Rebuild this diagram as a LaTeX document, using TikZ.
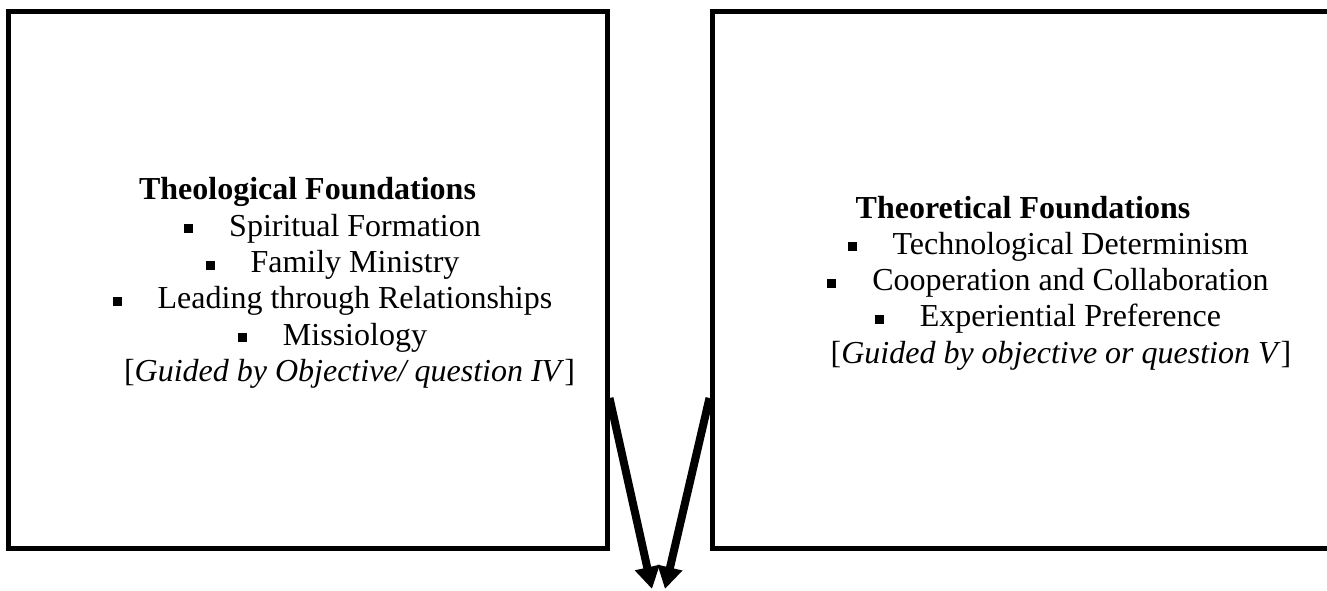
\documentclass[tikz,border=0pt]{standalone}
\usepackage{fontspec}
\setmainfont{Liberation Serif}
\usetikzlibrary{arrows.meta}
\newcommand\sqbul{\hspace*{50pt}\rule[3pt]{9pt}{9pt}\hspace{36pt}}
\begin{document}
\begin{tikzpicture}[x=1pt,y=1pt,
  box/.style={draw,line width=5pt,minimum height=536pt,inner sep=0pt},
  txt/.style={align=center,font=\fontsize{32}{36.3}\selectfont},
  arr/.style={line width=8pt,-{Triangle[length=22pt,width=24pt]}}]
\useasboundingbox (0,0) rectangle (1327,590);
\clip (0,0) rectangle (1327,590);
\node[box,minimum width=599pt] (L) at (307.5,310) {};
\node[box,minimum width=622pt] (R) at (1023,310) {};
\node[txt] (LT) at (307.5,307) {\textbf{Theological Foundations}\\
  \sqbul Spiritual Formation\\
  \sqbul Family Ministry\\
  \sqbul Leading through Relationships\\
  \sqbul Missiology\\
  \hspace*{76pt}\ {[}\textit{Guided by Objective/ question IV}{]}};
\node[txt] (RT) at (1023,307) {\textbf{Theoretical Foundations}\\
  \sqbul Technological Determinism\\
  \sqbul Cooperation and Collaboration\\
  \sqbul Experiential Preference\\
  \hspace*{76pt}{[}\textit{Guided by objective or question V}{]}};
\coordinate (a1) at ([yshift=-118pt]L.east);
\coordinate (b1) at ([yshift=-118pt]R.west);
\coordinate (a2) at (652,1);
\coordinate (b2) at (665,1);
\draw[arr] (a1) -- (a2);
\draw[arr] (b1) -- (b2);
\end{tikzpicture}
\end{document}
